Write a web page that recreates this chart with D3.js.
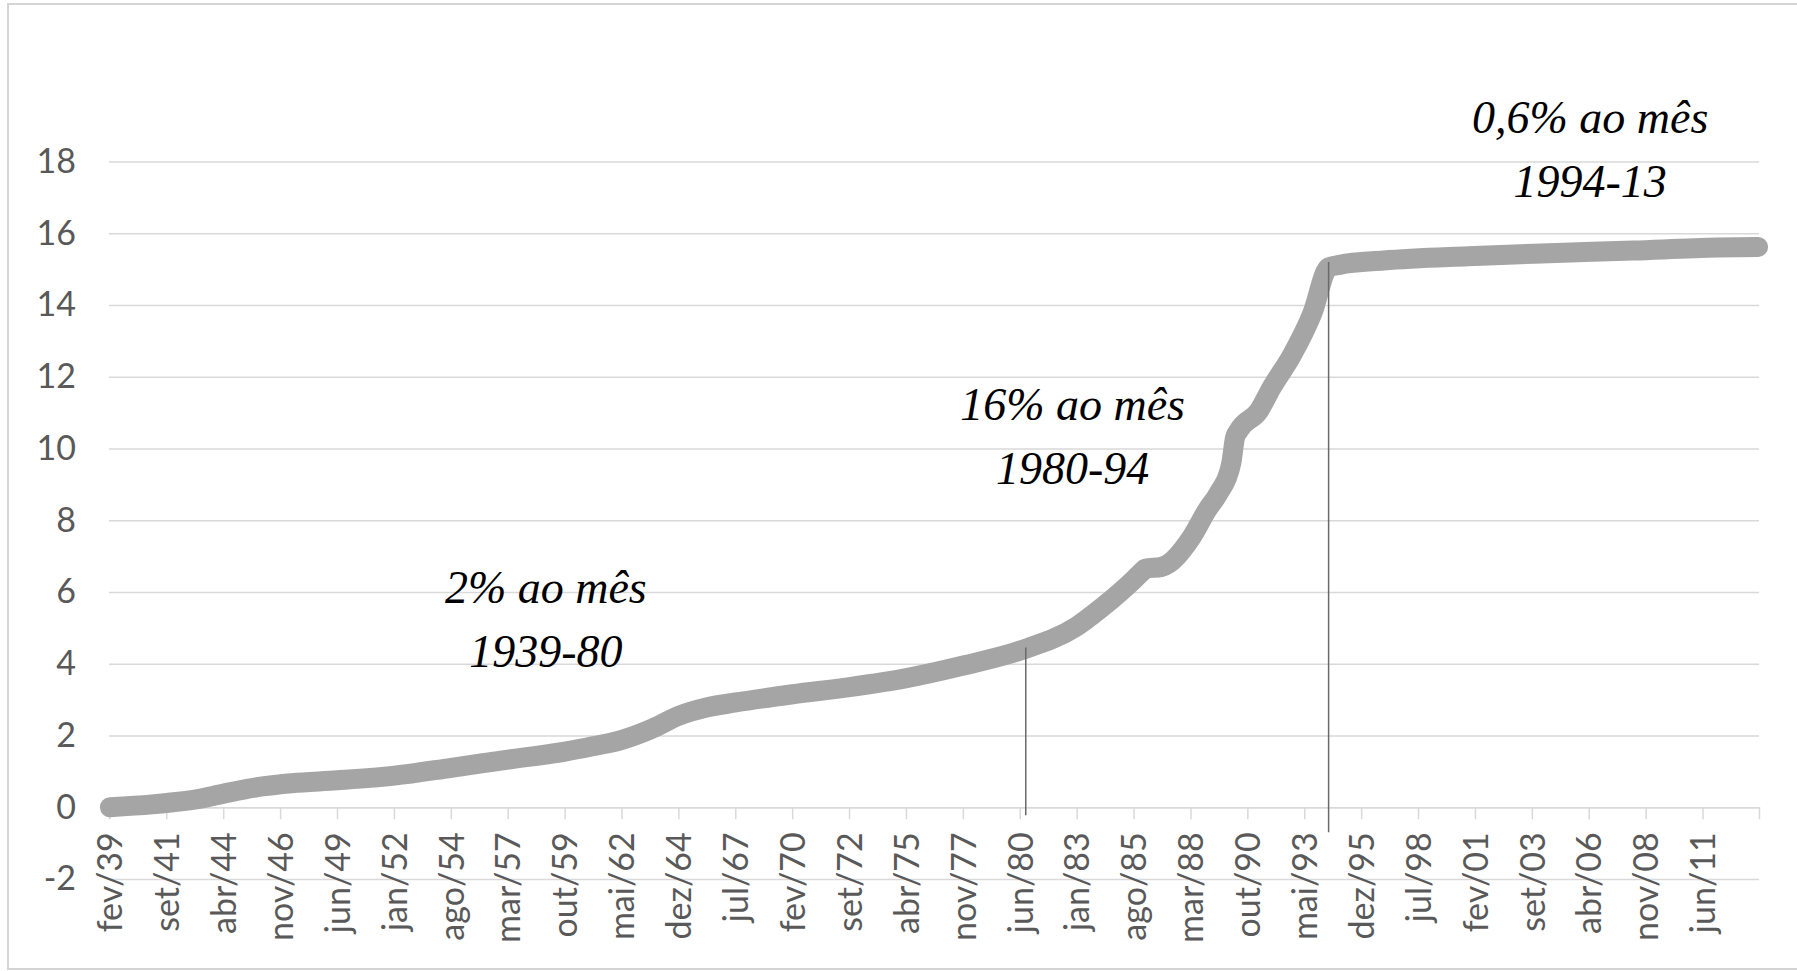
<!DOCTYPE html>
<html>
<head>
<meta charset="utf-8">
<script src="https://cdn.jsdelivr.net/npm/d3@7"></script>
<style>
  html, body { margin: 0; padding: 0; background: #fff; }
  svg { display: block; }
</style>
</head>
<body>
<div id="chart"></div>
<script>
// meses do eixo (categorias mensais fev/39 .. dez/13)
const nomesMes = ['jan', 'fev', 'mar', 'abr', 'mai', 'jun', 'jul', 'ago', 'set', 'out', 'nov', 'dez'];
const categorias = [];
for (let a = 1939; a <= 2013; a++) {
  for (let m = 0; m < 12; m++) {
    if (a === 1939 && m < 1) continue;
    categorias.push(nomesMes[m] + '/' + String(a).slice(2));
  }
}

// rotulos do eixo x (a cada 31 meses)
const rotulosX = ['fev/39', 'set/41', 'abr/44', 'nov/46', 'jun/49', 'jan/52', 'ago/54', 'mar/57',
  'out/59', 'mai/62', 'dez/64', 'jul/67', 'fev/70', 'set/72', 'abr/75', 'nov/77', 'jun/80',
  'jan/83', 'ago/85', 'mar/88', 'out/90', 'mai/93', 'dez/95', 'jul/98', 'fev/01', 'set/03',
  'abr/06', 'nov/08', 'jun/11'];

const ticksY = [-2, 0, 2, 4, 6, 8, 10, 12, 14, 16, 18];

// serie (log do nivel de precos)
const serieMes = ['fev/39', 'jan/41', 'set/41', 'jan/43', 'abr/44', 'jan/46', 'mai/47', 'jun/49',
  'jan/52', 'ago/54', 'mar/57', 'out/59', 'jan/61', 'mai/62', 'set/63', 'dez/64', 'mar/66', 'jul/67',
  'fev/70', 'set/72', 'abr/75', 'nov/77', 'jun/80', 'jan/83', 'fev/84', 'ago/85', 'jan/86', 'fev/86',
  'nov/86', 'mar/88', 'dez/88', 'jun/89', 'jan/90', 'mar/90', 'mai/90', 'abr/91', 'nov/91',
  'out/92', 'set/93', 'jun/94', 'dez/94', 'dez/96', 'out/00', 'out/03', 'abr/08', 'fev/12', 'dez/13'];
const serieValor = [0.00, 0.08, 0.12, 0.22, 0.38, 0.58, 0.67, 0.75,
  0.88, 1.10, 1.33, 1.55, 1.70, 1.88, 2.18, 2.55, 2.78, 2.92,
  3.15, 3.35, 3.60, 3.95, 4.37, 5.05, 5.55, 6.35, 6.60, 6.65,
  6.70, 7.50, 8.30, 8.75, 9.60, 10.30, 10.50, 11.05, 11.70,
  12.60, 13.75, 15.05, 15.12, 15.24, 15.36, 15.43, 15.52, 15.60, 15.62];

// marcos verticais
const marcoMes = ['set/80', 'jun/94'];
const marcoTopo = [4.45, 15.2];
const marcoBase = [-0.22, -0.7];

// anotacoes
const notaLinha1 = ['2% ao mês', '16% ao mês', '0,6% ao mês'];
const notaLinha2 = ['1939-80', '1980-94', '1994-13'];
const notaMes = ['dez/58', 'nov/82', 'mai/06'];
const notaValor = [5.7, 10.8, 18.8];

const W = 1797, H = 971;
const left = 109, right = 1759;

const svg = d3.select('#chart').append('svg')
  .attr('width', W)
  .attr('height', H);

// moldura
svg.append('rect')
  .attr('x', 8).attr('y', 4)
  .attr('width', W).attr('height', 965)
  .attr('fill', 'none')
  .attr('stroke', '#d4d4d4')
  .attr('stroke-width', 2);

const x = d3.scaleBand().domain(categorias).range([left, right]);
const bw = x.bandwidth();
const y = d3.scaleLinear().domain([-2, 18]).range([879, 161.5]);

// grade + eixo y
const gy = svg.append('g')
  .attr('transform', `translate(${left},0)`)
  .call(d3.axisLeft(y).tickValues(ticksY).tickFormat(d => String(d))
    .tickSize(-(right - left)).tickPadding(33));
gy.select('.domain').remove();
gy.selectAll('.tick line').attr('stroke', '#d9d9d9').attr('stroke-width', 1.5);
gy.selectAll('.tick text')
  .attr('fill', '#595959')
  .style('font-family', 'Lato, "Open Sans", sans-serif')
  .style('font-size', '34px');

// eixo x em 0
const gx = svg.append('g')
  .attr('transform', `translate(0,${y(0)})`)
  .call(d3.axisBottom(x).tickValues(rotulosX).tickSize(12).tickSizeOuter(12).tickPadding(0));
gx.select('.domain').attr('stroke', '#d9d9d9').attr('stroke-width', 1.5);
gx.selectAll('.tick line').attr('stroke', '#d9d9d9').attr('stroke-width', 1.5);
gx.selectAll('.tick text')
  .attr('fill', '#595959')
  .style('font-family', 'Lato, "Open Sans", sans-serif')
  .style('font-size', '34px')
  .attr('text-anchor', 'end')
  .attr('transform', 'rotate(-90)')
  .attr('x', -25)
  .attr('y', 0)
  .attr('dy', '0.36em');

// serie
const dados = serieMes.map((m, i) => ({ mes: m, v: serieValor[i] }));
const linha = d3.line()
  .x(d => x(d.mes) + bw / 2)
  .y(d => y(d.v))
  .curve(d3.curveMonotoneX);

svg.append('path')
  .datum(dados)
  .attr('d', linha)
  .attr('fill', 'none')
  .attr('stroke', '#a5a5a5')
  .attr('stroke-width', 20)
  .attr('stroke-linecap', 'round')
  .attr('stroke-linejoin', 'round');

// linhas verticais
svg.selectAll('line.marco')
  .data(marcoMes)
  .join('line')
  .attr('class', 'marco')
  .attr('x1', d => x(d) + bw / 2)
  .attr('x2', d => x(d) + bw / 2)
  .attr('y1', (d, i) => y(marcoTopo[i]))
  .attr('y2', (d, i) => y(marcoBase[i]))
  .attr('stroke', '#6a6a6a')
  .attr('stroke-width', 1.5);

// textos
const notas = svg.selectAll('g.nota')
  .data(notaMes)
  .join('g')
  .attr('class', 'nota')
  .attr('transform', (d, i) => `translate(${x(d)},${y(notaValor[i])})`)
  .style('font-family', '"Liberation Serif", "Times New Roman", serif')
  .style('font-style', 'italic')
  .style('font-size', '46px')
  .attr('fill', '#000')
  .attr('text-anchor', 'middle');

notas.append('text').text((d, i) => notaLinha1[i]);
notas.append('text').attr('y', 64).text((d, i) => notaLinha2[i]);
</script>
</body>
</html>
